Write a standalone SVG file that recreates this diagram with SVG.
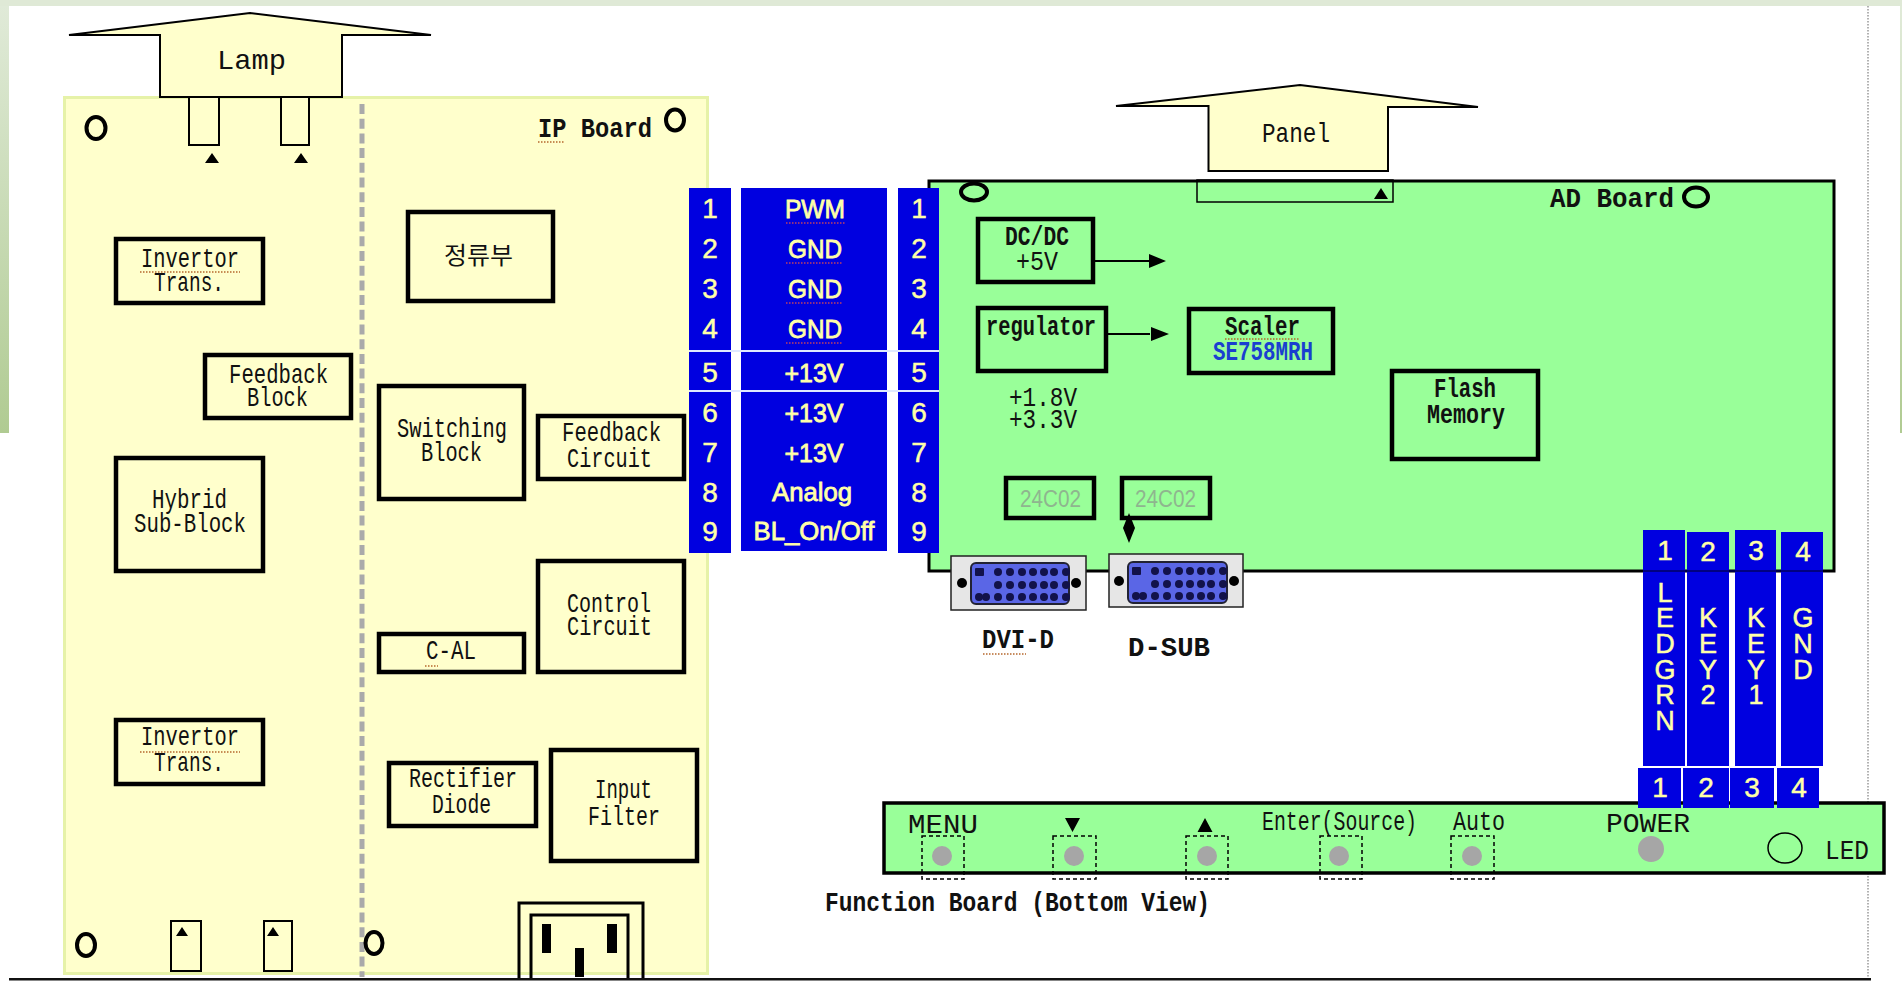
<svg xmlns="http://www.w3.org/2000/svg" width="1902" height="981" viewBox="0 0 1902 981">
<style>
.b{fill:none;stroke:#000;stroke-width:4.5}
.s{fill:#ffc;stroke:#000;stroke-width:2}
.t{font-family:"Liberation Mono",monospace;font-size:28px;fill:#111}
.d{font-weight:bold}
.w{font-family:"Liberation Sans",Arial,sans-serif;font-size:28px;fill:#ffffa8;stroke:#ffffa8;stroke-width:.5;text-anchor:middle}
.h{fill:none;stroke:#000;stroke-width:4}
.q{fill:none;stroke:#b5672c;stroke-width:1.5;stroke-dasharray:1.5 1.5}
.c{fill:#0000e0}
.p{fill:#e6e6e6;stroke:#222;stroke-width:1.5}
.i{fill:#5a66e6;stroke:#223;stroke-width:2}
.n{fill:#12124a}
.g{fill:#a6a6a6}
.db{fill:none;stroke:#000;stroke-width:1.5;stroke-dasharray:4 3}
.k{fill:#000}
.line{fill:none;stroke:#000;stroke-width:2}
</style>
<defs>
<linearGradient id="strip" x1="0" y1="0" x2="0" y2="1"><stop offset="0" stop-color="#e0ead8"/><stop offset="1" stop-color="#b0cb92"/></linearGradient>
<g id="pins">
<rect x="-1" y="0" width="9" height="8" rx="1"/>
<circle cx="22" cy="4" r="4"/><circle cx="34" cy="4" r="4"/><circle cx="46" cy="4" r="4"/><circle cx="57" cy="4" r="4"/><circle cx="68" cy="4" r="4"/><circle cx="78" cy="4" r="4"/><circle cx="90" cy="4" r="4"/>
<circle cx="22" cy="17" r="4"/><circle cx="34" cy="17" r="4"/><circle cx="46" cy="17" r="4"/><circle cx="57" cy="17" r="4"/><circle cx="68" cy="17" r="4"/><circle cx="78" cy="17" r="4"/><circle cx="90" cy="17" r="4"/>
<circle cx="3" cy="29" r="4"/><circle cx="10" cy="29" r="4"/><circle cx="22" cy="29" r="4"/><circle cx="34" cy="29" r="4"/><circle cx="46" cy="29" r="4"/><circle cx="57" cy="29" r="4"/><circle cx="68" cy="29" r="4"/><circle cx="78" cy="29" r="4"/><circle cx="90" cy="29" r="4"/>
</g>
</defs>
<rect width="1902" height="981" fill="#fff"/>
<g id="frame">
<rect x="0" y="0" width="1902" height="6" fill="#dfe9d6"/>
<rect x="0" y="6" width="9" height="427" fill="url(#strip)"/>
<rect x="1900" y="6" width="2" height="427" fill="url(#strip)"/>
<path d="M1868 6V980" fill="none" stroke="#999" stroke-width="1.5" stroke-dasharray="1.5 1.5"/>
<rect x="9" y="978" width="1862" height="2.5" fill="#111"/>
</g>
<g id="ip-board">
<rect x="64.5" y="97.5" width="643" height="876" fill="#ffc" stroke="#e6f2a8" stroke-width="3"/>
<path d="M362 104V977" fill="none" stroke="#aaa" stroke-width="5" stroke-dasharray="10 4.7"/>
<ellipse cx="96" cy="128" rx="9.500" ry="11" class="h"/>
<ellipse cx="675" cy="120" rx="9" ry="10.500" class="h"/>
<ellipse cx="86" cy="945" rx="9" ry="11" class="h"/>
<ellipse cx="374" cy="943" rx="8.500" ry="11" class="h"/>
<text class="t d" x="538" y="137" textLength="114" lengthAdjust="spacingAndGlyphs">IP Board</text>
<path d="M538 142H565" class="q"/>
<rect x="171" y="921" width="30" height="50" class="s"/>
<rect x="264" y="921" width="28" height="50" class="s"/>
<path d="M182 927l6 9h-12zM273 927l6 9h-12z" class="k"/>
</g>
<g id="lamp">
<path d="M69 35 250 13 431 35H342V97H160V35Z" class="s"/>
<rect x="189" y="97" width="30" height="48" class="s"/>
<rect x="281" y="97" width="28" height="48" class="s"/>
<path d="M212 153l7 10h-14zM301 153l7 10h-14z" class="k"/>
<text class="t" x="217" y="69" textLength="69" lengthAdjust="spacingAndGlyphs">Lamp</text>
</g>
<g id="invertor-1"><rect x="116" y="239" width="147" height="64" class="b"/><text class="t" x="141" y="267" textLength="98" lengthAdjust="spacingAndGlyphs">Invertor</text><text class="t" x="154" y="291" textLength="70" lengthAdjust="spacingAndGlyphs">Trans.</text><path d="M140 272H240" class="q"/></g>
<g id="feedback-block"><rect x="205" y="355" width="146" height="63" class="b"/><text class="t" x="229" y="383" textLength="99" lengthAdjust="spacingAndGlyphs">Feedback</text><text class="t" x="247" y="406" textLength="61" lengthAdjust="spacingAndGlyphs">Block</text></g>
<g id="rectifier-kr"><rect x="408" y="212" width="145" height="89" class="b"/><text x="444" y="264" textLength="69" lengthAdjust="spacingAndGlyphs" font-family="'Noto Sans CJK KR',sans-serif" font-size="24" fill="#111">정류부</text></g>
<g id="switching-block"><rect x="379" y="386" width="145" height="113" class="b"/><text class="t" x="397" y="437" textLength="110" lengthAdjust="spacingAndGlyphs">Switching</text><text class="t" x="421" y="461" textLength="61" lengthAdjust="spacingAndGlyphs">Block</text></g>
<g id="feedback-circuit"><rect x="538" y="416" width="146" height="63" class="b"/><text class="t" x="562" y="441" textLength="99" lengthAdjust="spacingAndGlyphs">Feedback</text><text class="t" x="567" y="467" textLength="85" lengthAdjust="spacingAndGlyphs">Circuit</text></g>
<g id="hybrid"><rect x="116" y="458" width="147" height="113" class="b"/><text class="t" x="152" y="508" textLength="75" lengthAdjust="spacingAndGlyphs">Hybrid</text><text class="t" x="134" y="532" textLength="112" lengthAdjust="spacingAndGlyphs">Sub-Block</text></g>
<g id="control-circuit"><rect x="538" y="561" width="146" height="111" class="b"/><text class="t" x="567" y="612" textLength="84" lengthAdjust="spacingAndGlyphs">Control</text><text class="t" x="567" y="635" textLength="85" lengthAdjust="spacingAndGlyphs">Circuit</text></g>
<g id="c-al"><rect x="379" y="634" width="145" height="38" class="b"/><text class="t" x="426" y="659" textLength="50" lengthAdjust="spacingAndGlyphs">C-AL</text><path d="M425 666H438" class="q"/></g>
<g id="invertor-2"><rect x="116" y="720" width="147" height="64" class="b"/><text class="t" x="141" y="745" textLength="98" lengthAdjust="spacingAndGlyphs">Invertor</text><text class="t" x="154" y="771" textLength="70" lengthAdjust="spacingAndGlyphs">Trans.</text><path d="M140 752H240" class="q"/></g>
<g id="rectifier-diode"><rect x="389" y="763" width="147" height="63" class="b"/><text class="t" x="409" y="787" textLength="108" lengthAdjust="spacingAndGlyphs">Rectifier</text><text class="t" x="432" y="813" textLength="59" lengthAdjust="spacingAndGlyphs">Diode</text></g>
<g id="input-filter"><rect x="551" y="750" width="146" height="111" class="b"/><text class="t" x="595" y="798" textLength="57" lengthAdjust="spacingAndGlyphs">Input</text><text class="t" x="588" y="825" textLength="72" lengthAdjust="spacingAndGlyphs">Filter</text></g>
<g id="power-socket"><path d="M519 978V903H643V978M531 978V915H628V978" fill="none" stroke="#000" stroke-width="3"/><rect x="542" y="924" width="9" height="29" class="k"/><rect x="607" y="924" width="10" height="29" class="k"/><rect x="575" y="948" width="9" height="29" class="k"/></g>

<g id="ad-board">
<rect x="929" y="181" width="905" height="390" fill="#9f9" stroke="#000" stroke-width="3"/>
<ellipse cx="974" cy="192" rx="13" ry="8.500" class="h"/>
<text class="t d" x="1550" y="207" textLength="124" lengthAdjust="spacingAndGlyphs">AD Board</text>
<ellipse cx="1696" cy="197" rx="12" ry="9.500" class="h"/>
<rect x="1197" y="180" width="196" height="22" fill="none" stroke="#000" stroke-width="1.5"/>
<path d="M1381 188l7 11h-14z" class="k"/>
</g>
<g id="panel">
<path d="M1116 106 1300 85 1478 107H1388V171H1208.500V106Z" class="s"/>
<text class="t" x="1262" y="142" textLength="68" lengthAdjust="spacingAndGlyphs">Panel</text>
</g>
<g id="dcdc"><rect x="978" y="219" width="115" height="63" class="b"/><text class="t d" x="1005" y="245" textLength="64" lengthAdjust="spacingAndGlyphs">DC/DC</text><text class="t" x="1016" y="270" textLength="42" lengthAdjust="spacingAndGlyphs">+5V</text></g>
<g id="regulator"><rect x="978" y="308" width="128" height="63" class="b"/><text class="t d" x="986" y="335" textLength="110" lengthAdjust="spacingAndGlyphs">regulator</text></g>
<g id="scaler"><rect x="1189" y="309" width="144" height="64" class="b"/><text class="t d" x="1225" y="335" textLength="75" lengthAdjust="spacingAndGlyphs">Scaler</text><text class="t d" x="1213" y="360" textLength="100" lengthAdjust="spacingAndGlyphs" style="fill:#1a3fd0">SE758MRH</text><path d="M1225 339H1300" class="q"/></g>
<g id="flash"><rect x="1392" y="371" width="146" height="88" class="b"/><text class="t d" x="1434" y="397" textLength="62" lengthAdjust="spacingAndGlyphs">Flash</text><text class="t d" x="1427" y="423" textLength="78" lengthAdjust="spacingAndGlyphs">Memory</text></g>
<g id="voltages"><text class="t" x="1009" y="406" textLength="68" lengthAdjust="spacingAndGlyphs">+1.8V</text><text class="t" x="1009" y="428" textLength="68" lengthAdjust="spacingAndGlyphs">+3.3V</text></g>
<g id="eeprom-1"><rect x="1006" y="478" width="88" height="40" class="b"/><text x="1020" y="507" textLength="61" lengthAdjust="spacingAndGlyphs" font-family="'Liberation Sans',sans-serif" font-size="23" fill="#8fb58f">24C02</text></g>
<g id="eeprom-2"><rect x="1122" y="478" width="88" height="40" class="b"/><text x="1135" y="507" textLength="61" lengthAdjust="spacingAndGlyphs" font-family="'Liberation Sans',sans-serif" font-size="23" fill="#8fb58f">24C02</text></g>
<g id="dvi"><rect x="951" y="556" width="135" height="54" class="p"/><rect x="971" y="563" width="98" height="41" rx="5" class="i"/><use href="#pins" x="976" y="568" class="n"/><circle cx="962" cy="583" r="5" class="k"/><circle cx="1076" cy="583" r="5" class="k"/><text class="t d" x="982" y="648" textLength="72" lengthAdjust="spacingAndGlyphs">DVI-D</text><path d="M983 654H1026" class="q"/></g>
<g id="dsub"><rect x="1109" y="554" width="134" height="53" class="p"/><rect x="1128" y="562" width="99" height="41" rx="5" class="i"/><use href="#pins" x="1133" y="567" class="n"/><circle cx="1119" cy="581" r="5" class="k"/><circle cx="1234" cy="581" r="5" class="k"/><text class="t d" x="1128" y="656" textLength="82" lengthAdjust="spacingAndGlyphs">D-SUB</text></g>

<g id="cn-left">
<rect x="689" y="188" width="42" height="365" class="c"/>
<rect x="741" y="188" width="146" height="363" class="c"/>
<rect x="898" y="188" width="41" height="365" class="c"/>
<path d="M689 351H939M689 391H939" stroke="#dfe9ff" stroke-width="2" fill="none"/>
<g class="w">
<text x="710" y="218">1</text><text x="710" y="258">2</text><text x="710" y="298">3</text><text x="710" y="338">4</text><text x="710" y="382">5</text><text x="710" y="422">6</text><text x="710" y="462">7</text><text x="710" y="502">8</text><text x="710" y="541">9</text>
<text x="919" y="218">1</text><text x="919" y="258">2</text><text x="919" y="298">3</text><text x="919" y="338">4</text><text x="919" y="382">5</text><text x="919" y="422">6</text><text x="919" y="462">7</text><text x="919" y="502">8</text><text x="919" y="541">9</text>
</g>
<g class="w" style="font-size:26px;stroke-width:.8">
<text x="815" y="218" textLength="60" lengthAdjust="spacingAndGlyphs">PWM</text>
<text x="815" y="258" textLength="54" lengthAdjust="spacingAndGlyphs">GND</text>
<text x="815" y="298" textLength="54" lengthAdjust="spacingAndGlyphs">GND</text>
<text x="815" y="338" textLength="54" lengthAdjust="spacingAndGlyphs">GND</text>
<text x="814" y="382" textLength="59" lengthAdjust="spacingAndGlyphs">+13V</text>
<text x="814" y="422" textLength="59" lengthAdjust="spacingAndGlyphs">+13V</text>
<text x="814" y="462" textLength="59" lengthAdjust="spacingAndGlyphs">+13V</text>
<text x="812" y="501" textLength="80" lengthAdjust="spacingAndGlyphs">Analog</text>
<text x="814" y="540" textLength="121" lengthAdjust="spacingAndGlyphs">BL_On/Off</text>
</g>
<path d="M786 223H845M786 263H842M786 303H842M786 343H842" stroke="#c04060" stroke-width="1.500" stroke-dasharray="1.5 1.5" fill="none"/>
</g>

<g id="function-board">
<rect x="884" y="803" width="1000" height="70" fill="#9f9" stroke="#000" stroke-width="3.500"/>
<text class="t" x="908" y="833" textLength="70" lengthAdjust="spacingAndGlyphs">MENU</text>
<path d="M1065 818h15l-7.500 14zM1205 818l7.500 14h-15z" class="k"/>
<text class="t" x="1262" y="830" textLength="155" lengthAdjust="spacingAndGlyphs">Enter(Source)</text>
<text class="t" x="1453" y="830" textLength="52" lengthAdjust="spacingAndGlyphs">Auto</text>
<text class="t" x="1606" y="832" textLength="84" lengthAdjust="spacingAndGlyphs">POWER</text>
<text class="t" x="1825" y="859" textLength="44" lengthAdjust="spacingAndGlyphs">LED</text>
<ellipse cx="1785" cy="848" rx="17" ry="15" fill="none" stroke="#000" stroke-width="1.500"/>
<rect x="922" y="836" width="42" height="43" class="db"/><ellipse cx="942" cy="856" rx="10" ry="10" class="g"/>
<rect x="1053" y="836" width="43" height="43" class="db"/><ellipse cx="1074" cy="856" rx="10" ry="10" class="g"/>
<rect x="1186" y="836" width="42" height="43" class="db"/><ellipse cx="1207" cy="856" rx="10" ry="10" class="g"/>
<rect x="1320" y="836" width="42" height="43" class="db"/><ellipse cx="1339" cy="856" rx="10" ry="10" class="g"/>
<rect x="1451" y="836" width="43" height="43" class="db"/><ellipse cx="1472" cy="856" rx="10" ry="10" class="g"/>
<ellipse cx="1651" cy="849" rx="13" ry="13" class="g"/>
<text class="t d" x="825" y="911" textLength="385" lengthAdjust="spacingAndGlyphs">Function Board (Bottom View)</text>
</g>

<g id="cn-right">
<rect x="1643" y="530" width="42" height="236" class="c"/>
<rect x="1687" y="532" width="42" height="234" class="c"/>
<rect x="1735" y="530" width="41" height="236" class="c"/>
<rect x="1781" y="532" width="42" height="234" class="c"/>
<path d="M1643 571H1823" stroke="#000060" stroke-width="1.500" fill="none"/>
<rect x="1638" y="768" width="43" height="40" class="c"/>
<rect x="1683" y="768" width="46" height="40" class="c"/>
<rect x="1730" y="768" width="44" height="40" class="c"/>
<rect x="1777" y="768" width="42" height="40" class="c"/>
<g class="w">
<text x="1665" y="560">1</text><text x="1708" y="561">2</text><text x="1756" y="560">3</text><text x="1803" y="561">4</text>
<text x="1660" y="797">1</text><text x="1706" y="797">2</text><text x="1752" y="797">3</text><text x="1799" y="797">4</text>
</g>
<g class="w" style="font-size:27px">
<text x="1665" y="602">L</text><text x="1665" y="627">E</text><text x="1665" y="653">D</text><text x="1665" y="679">G</text><text x="1665" y="704">R</text><text x="1665" y="730">N</text>
<text x="1708" y="627">K</text><text x="1708" y="653">E</text><text x="1708" y="679">Y</text><text x="1708" y="704">2</text>
<text x="1756" y="627">K</text><text x="1756" y="653">E</text><text x="1756" y="679">Y</text><text x="1756" y="704">1</text>
<text x="1803" y="627">G</text><text x="1803" y="653">N</text><text x="1803" y="679">D</text>
</g>
</g>

<g id="connectors">
<path d="M1094 261H1150M1107 334H1150" class="line"/>
<path d="M1149 254 1166 261 1149 268ZM1151 327 1169 334 1151 341Z" class="k"/>
<path d="M1129 513 1135 528 1129 543 1123 528Z" class="k"/>
</g>
</svg>
